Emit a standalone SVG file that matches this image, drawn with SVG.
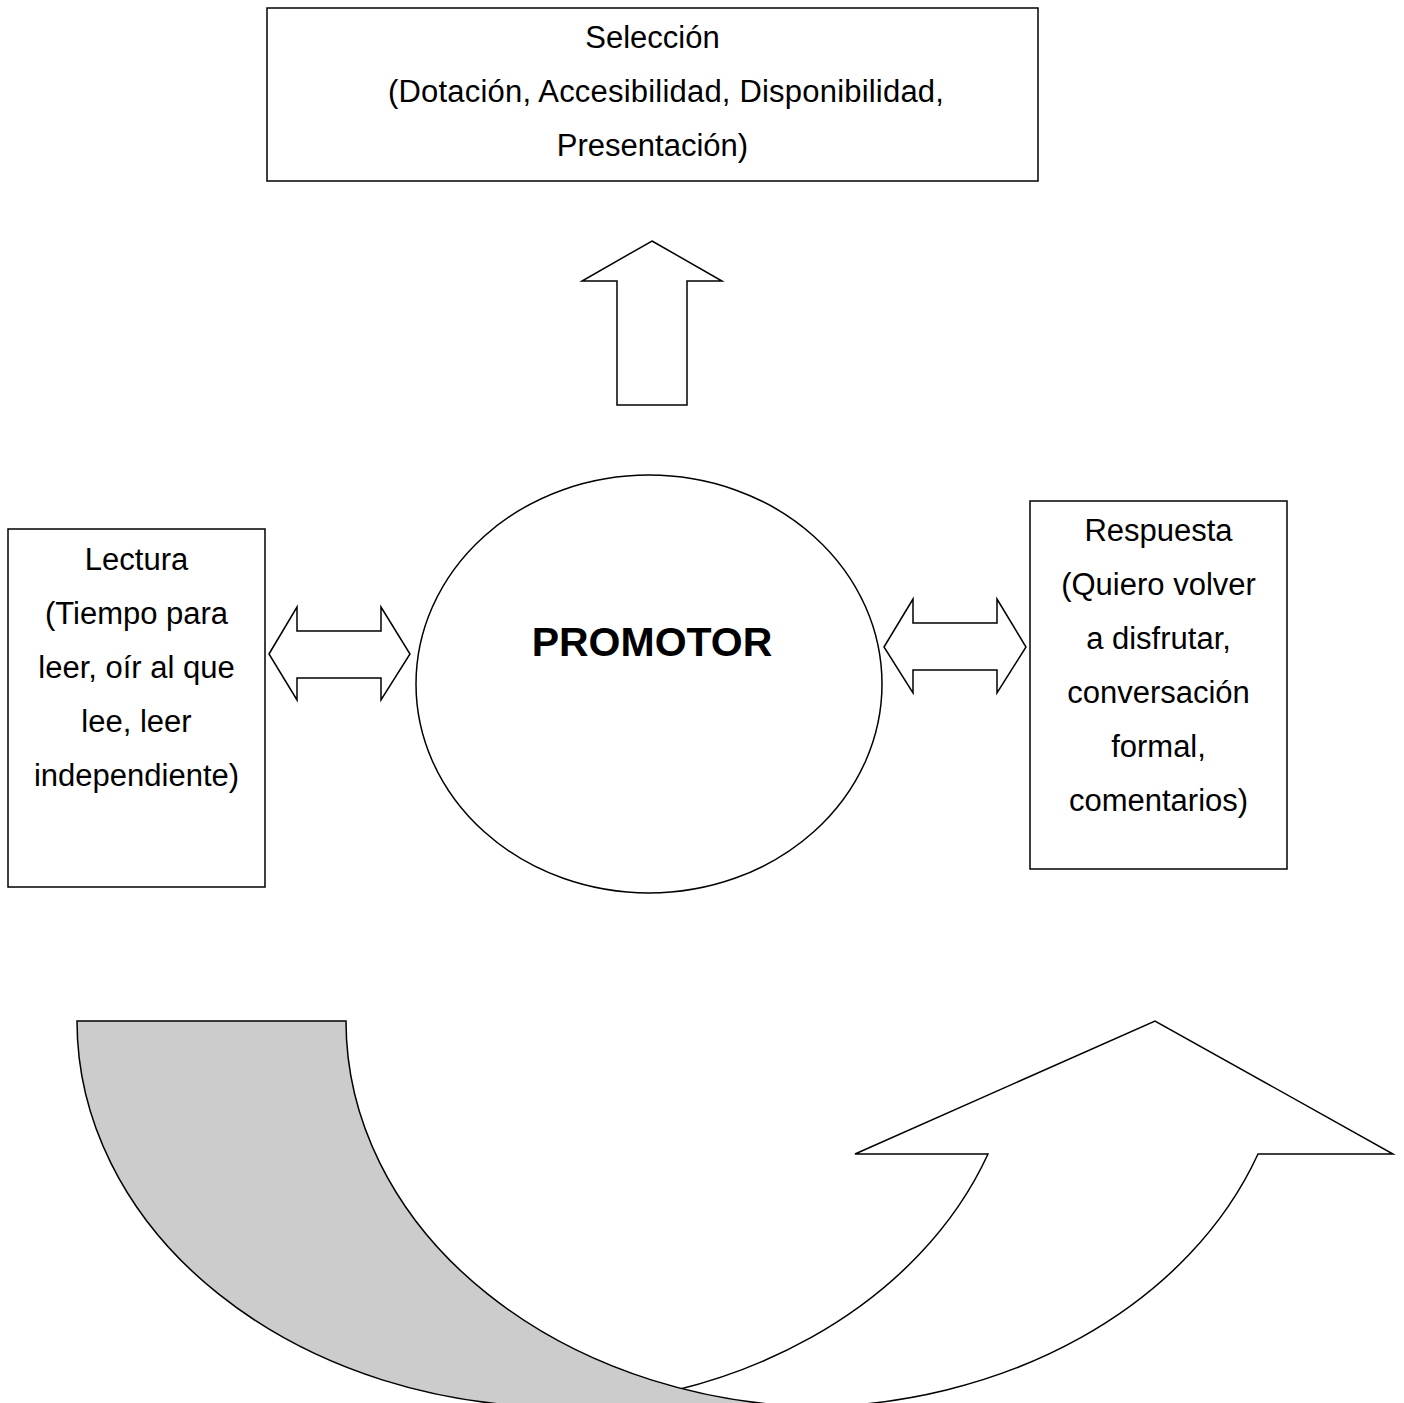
<svg xmlns="http://www.w3.org/2000/svg" width="1404" height="1403" viewBox="0 0 1404 1403">
<style>
.box{fill:#fff;stroke:#000;stroke-width:1.5}
.shape{fill:#fff;stroke:#000;stroke-width:1.5;stroke-linejoin:miter}
.grey{fill:#cccccc;stroke:#000;stroke-width:1.5}
.t{font-family:"Liberation Sans",Arial,sans-serif;font-size:31px;fill:#000;text-anchor:middle}
.b{font-family:"Liberation Sans",Arial,sans-serif;font-size:41px;font-weight:bold;fill:#000;text-anchor:middle}
</style>
<rect width="1404" height="1403" fill="#fff"/>
<g id="seleccion">
<rect class="box" x="267" y="8" width="771" height="173"/>
<text class="t" x="652.5" y="48">Selección</text>
<text class="t" x="666" y="102" letter-spacing="0.2">(Dotación, Accesibilidad, Disponibilidad,</text>
<text class="t" x="652.5" y="156">Presentación)</text>
</g>
<g id="lectura">
<rect class="box" x="8" y="529" width="257" height="358"/>
<text class="t" x="136.5" y="570">Lectura</text>
<text class="t" x="136.5" y="624">(Tiempo para</text>
<text class="t" x="136.5" y="678">leer, oír al que</text>
<text class="t" x="136.5" y="732">lee, leer</text>
<text class="t" x="136.5" y="786">independiente)</text>
</g>
<g id="respuesta">
<rect class="box" x="1030" y="501" width="257" height="368"/>
<text class="t" x="1158.5" y="541">Respuesta</text>
<text class="t" x="1158.5" y="595">(Quiero volver</text>
<text class="t" x="1158.5" y="649">a disfrutar,</text>
<text class="t" x="1158.5" y="703">conversación</text>
<text class="t" x="1158.5" y="757">formal,</text>
<text class="t" x="1158.5" y="811">comentarios)</text>
</g>
<g id="promotor">
<ellipse class="box" cx="649" cy="684" rx="233" ry="209"/>
<text class="b" x="652" y="656">PROMOTOR</text>
</g>
<g id="connectors">
<polygon class="shape" points="652,241 722,281 687,281 687,405 617,405 617,281 582,281"/>
<polygon class="shape" points="269,654 297,607 297,631 381,631 381,607 410,654 381,700 381,678 297,678 297,700"/>
<polygon class="shape" points="884,647 913,599 913,623 997,623 997,599 1026,647 997,693 997,670 913,670 913,693"/>
<path class="shape" d="M988,1154 L855,1154 L1155,1021 L1393,1154 L1258,1154 A483,386 0 0 1 805,1407 L535,1407 A483,386 0 0 0 988,1154 Z"/>
<path class="grey" d="M77,1021 L346,1021 A483,386 0 0 0 829,1407 L560,1407 A483,386 0 0 1 77,1021 Z"/>
</g>
</svg>
